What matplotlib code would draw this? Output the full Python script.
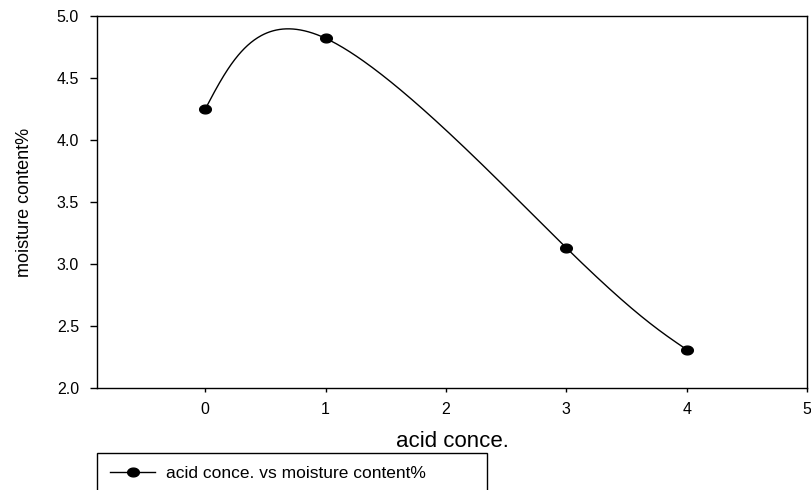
import numpy as np
import matplotlib
matplotlib.use("Agg")
import matplotlib.pyplot as plt
from matplotlib.path import Path
from matplotlib.lines import Line2D

# Data
acid_conc = [0, 1, 3, 4]
moisture = [4.25, 4.82, 3.13, 2.31]
x_ticks = [0, 1, 2, 3, 4, 5]
x_tick_labels = ["0", "1", "2", "3", "4", "5"]
y_ticks = [2.0, 2.5, 3.0, 3.5, 4.0, 4.5, 5.0]
y_tick_labels = ["2.0", "2.5", "3.0", "3.5", "4.0", "4.5", "5.0"]
series_label = "acid conce. vs moisture content%"

plt.rcParams["font.family"] = ["Liberation Sans", "DejaVu Sans"]


def natural_spline(t, v, tt):
    """Natural cubic spline through (t, v), evaluated at tt."""
    t = np.asarray(t, float)
    v = np.asarray(v, float)
    n = len(t)
    h = np.diff(t)
    A = np.zeros((n, n))
    r = np.zeros(n)
    A[0, 0] = A[-1, -1] = 1.0
    for i in range(1, n - 1):
        A[i, i - 1] = h[i - 1]
        A[i, i] = 2 * (h[i - 1] + h[i])
        A[i, i + 1] = h[i]
        r[i] = 6 * ((v[i + 1] - v[i]) / h[i] - (v[i] - v[i - 1]) / h[i - 1])
    M = np.linalg.solve(A, r)
    idx = np.clip(np.searchsorted(t, tt, side="right") - 1, 0, n - 2)
    hi = h[idx]
    a = t[idx + 1] - tt
    b = tt - t[idx]
    return (M[idx] * a ** 3 / (6 * hi) + M[idx + 1] * b ** 3 / (6 * hi)
            + (v[idx] / hi - M[idx] * hi / 6) * a
            + (v[idx + 1] / hi - M[idx + 1] * hi / 6) * b)


# Parametric spline curve through the points (uniform parameter)
t_knots = np.arange(len(acid_conc))
t_fine = np.linspace(0, t_knots[-1], 400)
curve_x = natural_spline(t_knots, acid_conc, t_fine)
curve_y = natural_spline(t_knots, moisture, t_fine)

# Slightly flattened filled dot
theta = np.linspace(0, 2 * np.pi, 64)
dot = Path(np.column_stack([np.cos(theta), 0.75 * np.sin(theta)]), closed=True)

fig = plt.figure(figsize=(8.12, 4.9), dpi=100)
ax = fig.add_axes([97 / 812, 102 / 490, 710 / 812, 372 / 490])

ax.plot(curve_x, curve_y, color="black", lw=1.0, zorder=2)
ax.plot(acid_conc, moisture, ls="none", marker=dot, ms=8.4,
        color="black", zorder=3)

ax.set_xlim(-0.9, 5.0)
ax.set_ylim(2.0, 5.0)
ax.set_xticks(x_ticks)
ax.set_xticklabels(x_tick_labels)
ax.set_yticks(y_ticks)
ax.set_yticklabels(y_tick_labels)

for side in ["left", "right", "top", "bottom"]:
    ax.spines[side].set_linewidth(1.0)
    ax.spines[side].set_color("black")

ax.tick_params(axis="x", direction="out", length=3.2, width=1.0,
               pad=6.8, labelsize=11.5, colors="black")
ax.tick_params(axis="y", direction="out", length=5.0, width=1.0,
               pad=7.9, labelsize=11.5, colors="black")

ax.set_xlabel("acid conce.", fontsize=16)
ax.xaxis.set_label_coords(0.5, -(447 - 388) / 372)
ax.xaxis.label.set_verticalalignment("baseline")

ax.set_ylabel("moisture content%", fontsize=13)
ax.yaxis.label.set_verticalalignment("center")
ax.yaxis.set_label_coords((25 - 97) / 710, 0.5)

handle = Line2D([], [], color="black", lw=1.0, marker=dot, ms=8.4)
leg = ax.legend([handle], [series_label], loc="upper left",
                bbox_to_anchor=(97 / 812, (490 - 453) / 490 - 0.1,
                                390 / 812, 0.1),
                bbox_transform=fig.transFigure, mode="expand",
                borderaxespad=0, fontsize=12.5, frameon=True, fancybox=False,
                framealpha=1, edgecolor="black", borderpad=0.75,
                handlelength=2.6, handletextpad=0.6, numpoints=1)
leg.get_frame().set_linewidth(1.0)

fig.savefig("out.png", dpi=100)
